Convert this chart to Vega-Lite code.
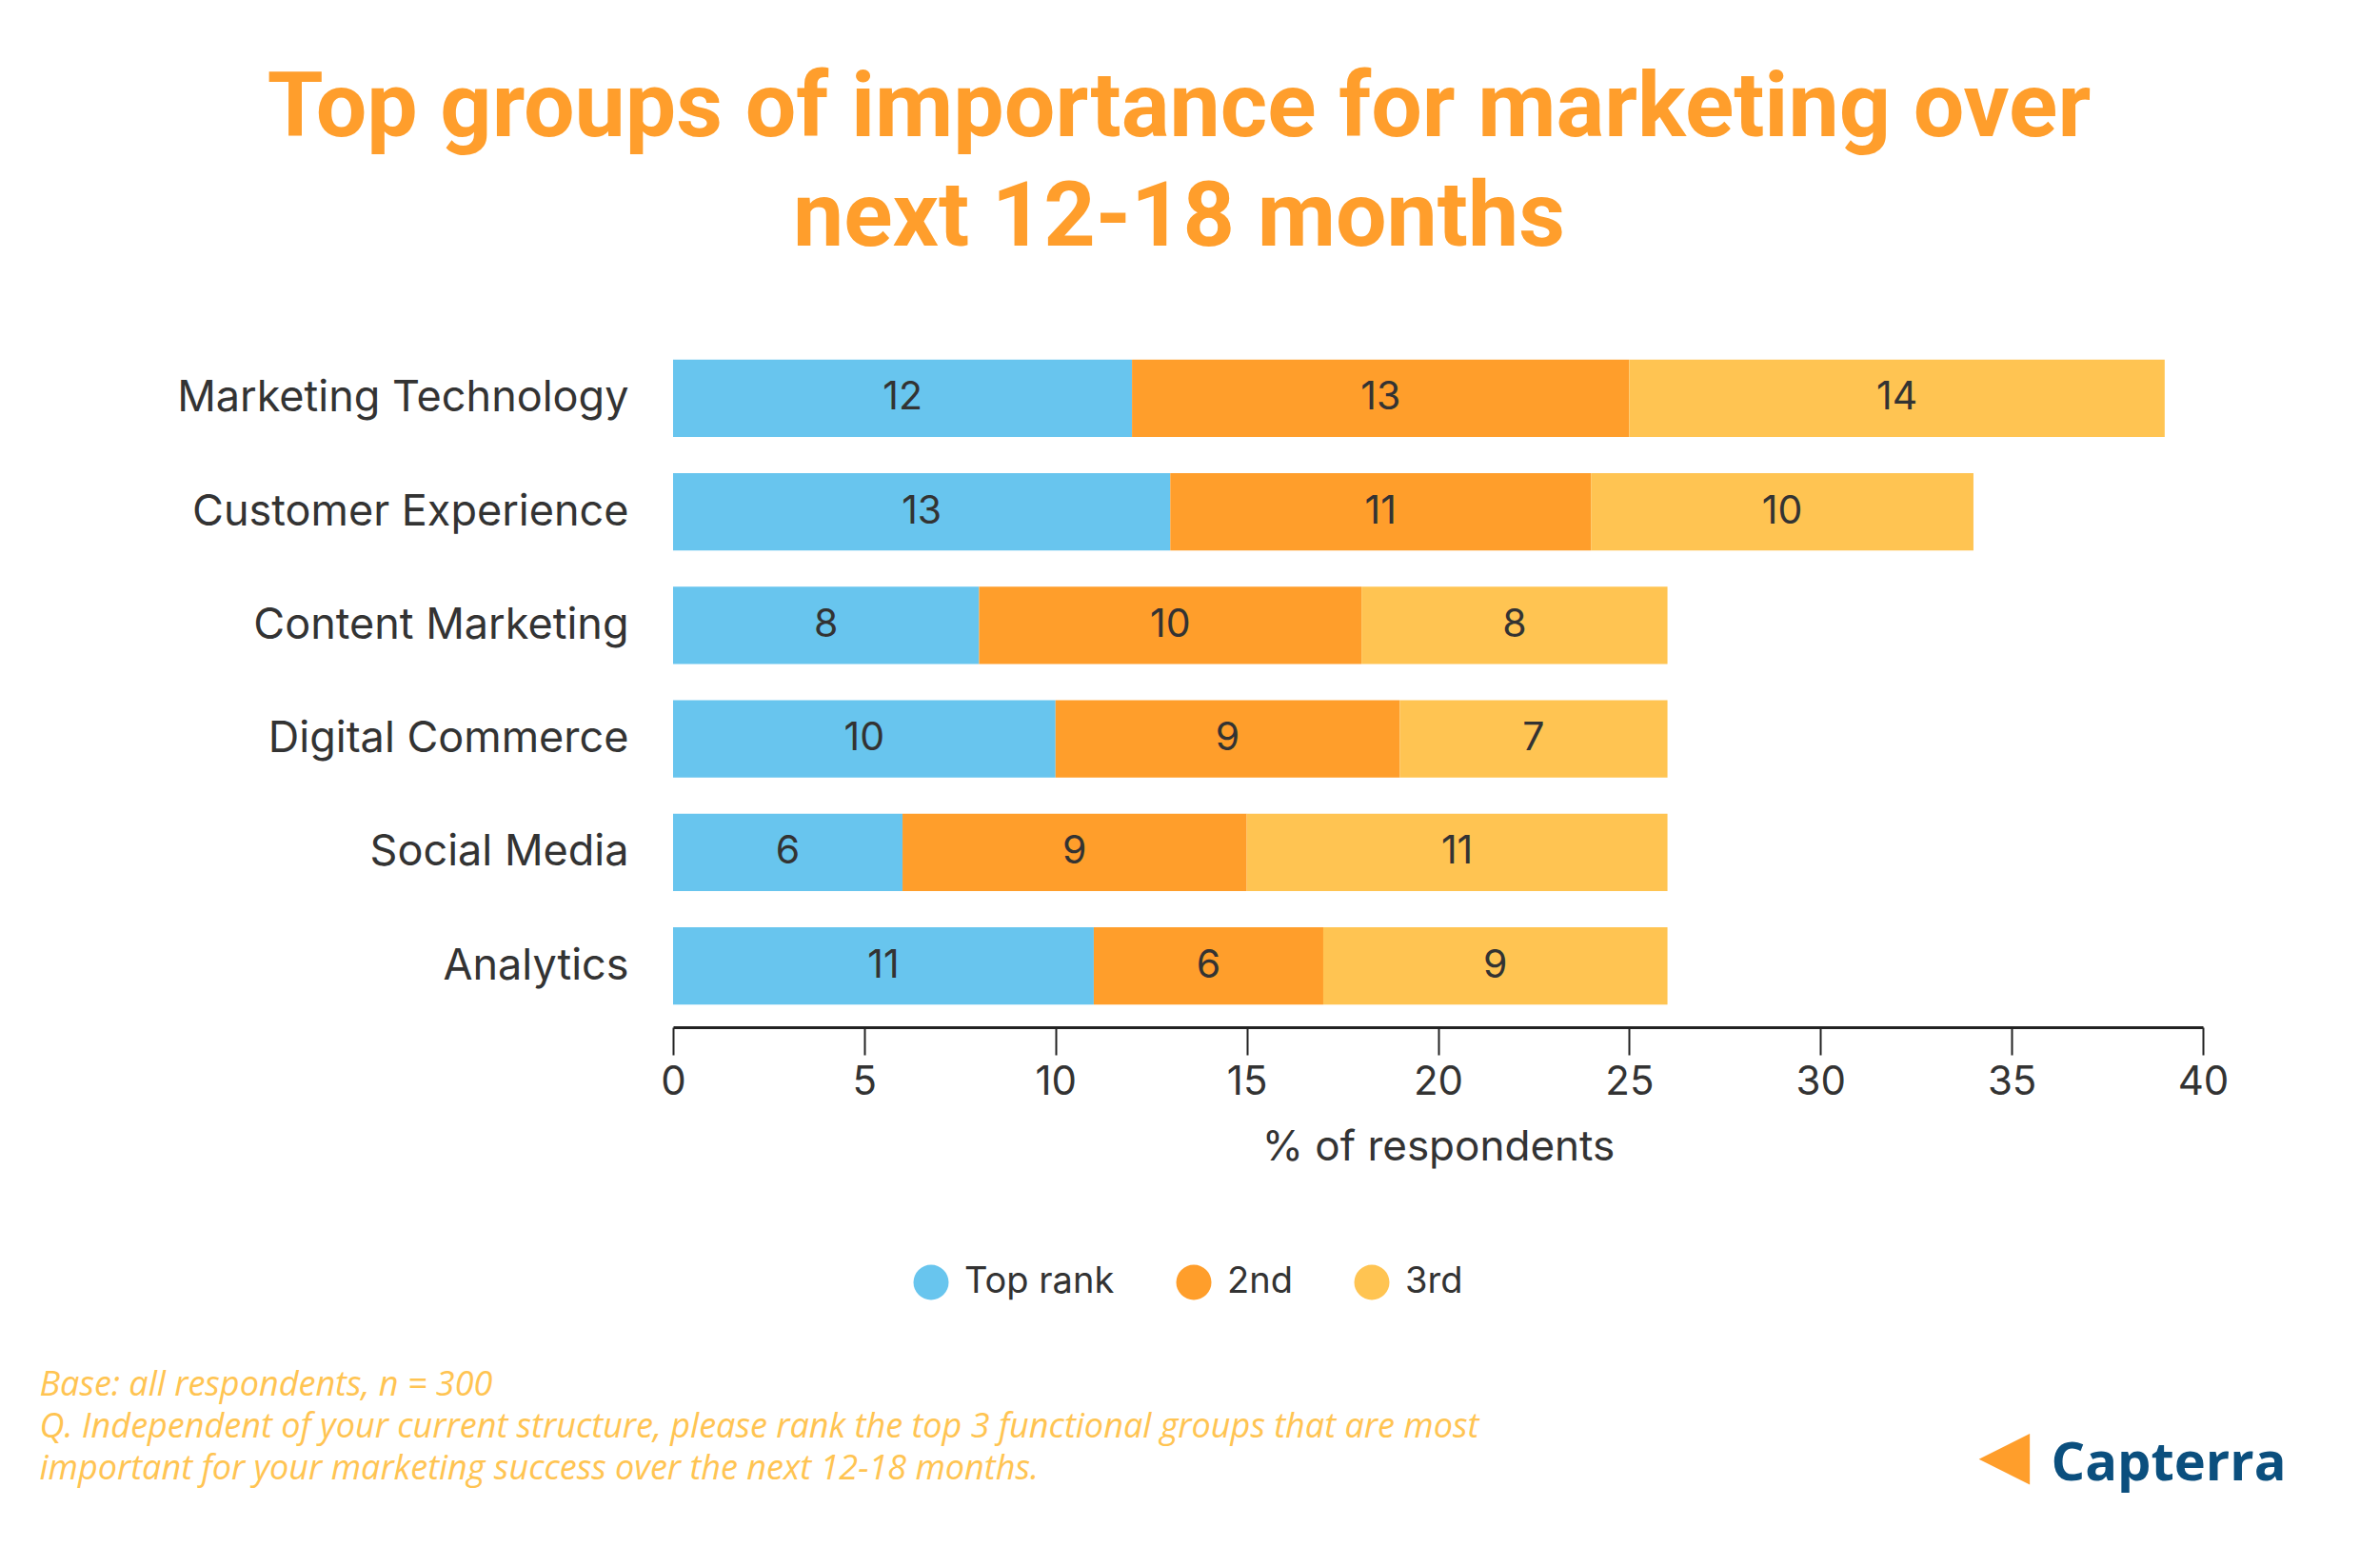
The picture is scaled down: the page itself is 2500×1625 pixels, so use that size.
{
  "$schema": "https://vega.github.io/schema/vega-lite/v6.json",
  "width": 1607,
  "height": 725,
  "autosize": {"type": "none"},
  "padding": {"left": 707, "top": 354, "right": 186, "bottom": 546},
  "background": "white",
  "title": {
    "text": ["Top groups of importance for marketing over", "next 12-18 months"],
    "anchor": "middle",
    "frame": "group",
    "dx": -272,
    "offset": 76,
    "font": "Roboto",
    "fontSize": 95,
    "fontWeight": "bold",
    "color": "#FF9E2C",
    "lineHeight": 115
  },
  "data": {
    "values": [
      {"category": "Marketing Technology", "rank": "Top rank", "order": 1, "value": 12},
      {"category": "Marketing Technology", "rank": "2nd", "order": 2, "value": 13},
      {"category": "Marketing Technology", "rank": "3rd", "order": 3, "value": 14},
      {"category": "Customer Experience", "rank": "Top rank", "order": 1, "value": 13},
      {"category": "Customer Experience", "rank": "2nd", "order": 2, "value": 11},
      {"category": "Customer Experience", "rank": "3rd", "order": 3, "value": 10},
      {"category": "Content Marketing", "rank": "Top rank", "order": 1, "value": 8},
      {"category": "Content Marketing", "rank": "2nd", "order": 2, "value": 10},
      {"category": "Content Marketing", "rank": "3rd", "order": 3, "value": 8},
      {"category": "Digital Commerce", "rank": "Top rank", "order": 1, "value": 10},
      {"category": "Digital Commerce", "rank": "2nd", "order": 2, "value": 9},
      {"category": "Digital Commerce", "rank": "3rd", "order": 3, "value": 7},
      {"category": "Social Media", "rank": "Top rank", "order": 1, "value": 6},
      {"category": "Social Media", "rank": "2nd", "order": 2, "value": 9},
      {"category": "Social Media", "rank": "3rd", "order": 3, "value": 11},
      {"category": "Analytics", "rank": "Top rank", "order": 1, "value": 11},
      {"category": "Analytics", "rank": "2nd", "order": 2, "value": 6},
      {"category": "Analytics", "rank": "3rd", "order": 3, "value": 9}
    ]
  },
  "transform": [
    {"stack": "value", "groupby": ["category"], "sort": [{"field": "order", "order": "ascending"}], "as": ["x0", "x1"]}
  ],
  "layer": [
    {
      "mark": {"type": "bar"},
      "encoding": {
        "y": {
          "field": "category",
          "type": "nominal",
          "sort": ["Marketing Technology", "Customer Experience", "Content Marketing", "Digital Commerce", "Social Media", "Analytics"],
          "scale": {"paddingInner": 0.32, "paddingOuter": 0.2},
          "axis": {
            "orient": "left",
            "ticks": false,
            "domain": false,
            "grid": false,
            "labelFont": "Inter",
            "labelFontSize": 45,
            "labelColor": "#333333",
            "labelPadding": 47,
            "labelLimit": 700,
            "title": "◀",
            "titleAngle": 0,
            "titleAlign": "left",
            "titleBaseline": "alphabetic",
            "titleX": 1371,
            "titleY": 1196,
            "titleFont": "DejaVu Sans",
            "titleFontSize": 70,
            "titleFontWeight": "normal",
            "titleColor": "#FF9E2B"
          }
        },
        "x": {
          "field": "x0",
          "type": "quantitative",
          "scale": {"domain": [0, 40], "nice": false},
          "axis": {
            "orient": "bottom",
            "values": [0, 5, 10, 15, 20, 25, 30, 35, 40],
            "grid": false,
            "domainColor": "#222222",
            "domainWidth": 3,
            "tickColor": "#222222",
            "tickWidth": 2,
            "tickSize": 29,
            "labelFont": "Inter",
            "labelFontSize": 42,
            "labelColor": "#333333",
            "labelPadding": 8,
            "labelFlush": false,
            "title": "% of respondents",
            "titleFont": "Inter",
            "titleFontSize": 44,
            "titleFontWeight": "normal",
            "titleColor": "#333333",
            "titlePadding": 26
          }
        },
        "x2": {"field": "x1"},
        "color": {
          "field": "rank",
          "type": "nominal",
          "scale": {"domain": ["Top rank", "2nd", "3rd"], "range": ["#68C5EE", "#FF9E2B", "#FFC452"]},
          "legend": {
            "orient": "none",
            "legendX": 252,
            "legendY": 974,
            "direction": "horizontal",
            "title": null,
            "symbolType": "circle",
            "symbolSize": 1369,
            "symbolStrokeWidth": 0,
            "symbolOpacity": 1,
            "labelFont": "Inter",
            "labelFontSize": 38,
            "labelColor": "#333333",
            "labelOffset": 16,
            "labelLimit": 400,
            "columnPadding": 64
          }
        }
      }
    },
    {
      "transform": [
        {"fold": ["x0", "x1"], "as": ["edge", "pos"]},
        {"aggregate": [{"op": "mean", "field": "pos", "as": "mid"}], "groupby": ["category", "rank", "value"]}
      ],
      "mark": {"type": "text", "font": "Inter", "fontSize": 41, "color": "#333333"},
      "encoding": {
        "y": {
          "field": "category",
          "type": "nominal",
          "sort": ["Marketing Technology", "Customer Experience", "Content Marketing", "Digital Commerce", "Social Media", "Analytics"],
          "axis": {
            "orient": "right",
            "labels": false,
            "ticks": false,
            "domain": false,
            "grid": false,
            "title": "Capterra",
            "titleAngle": 0,
            "titleAlign": "left",
            "titleBaseline": "alphabetic",
            "titleX": -160,
            "titleY": 1200,
            "titleFont": "Open Sans",
            "titleFontSize": 56,
            "titleFontWeight": "bold",
            "titleColor": "#0B4F7E"
          }
        },
        "x": {
          "field": "mid",
          "type": "quantitative",
          "axis": {
            "orient": "top",
            "labels": false,
            "ticks": false,
            "domain": false,
            "grid": false,
            "title": [
              "Base: all respondents, n = 300",
              "Q. Independent of your current structure, please rank the top 3 functional groups that are most",
              "important for your marketing success over the next 12-18 months."
            ],
            "titleAngle": 0,
            "titleAlign": "left",
            "titleBaseline": "alphabetic",
            "titleX": -666,
            "titleY": 1111,
            "titleFont": "Open Sans",
            "titleFontSize": 36,
            "titleFontStyle": "italic",
            "titleFontWeight": "normal",
            "titleColor": "#FFC452",
            "titleLineHeight": 44
          }
        },
        "text": {"field": "value", "type": "quantitative"}
      }
    }
  ],
  "resolve": {"axis": {"x": "independent", "y": "independent"}},
  "config": {"view": {"stroke": null}}
}
